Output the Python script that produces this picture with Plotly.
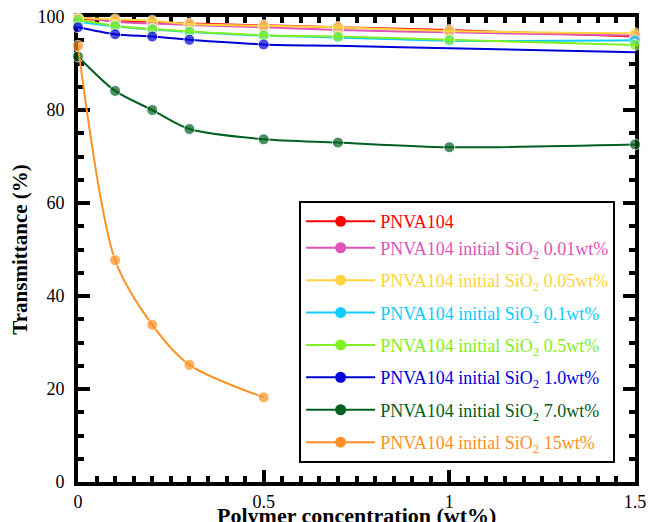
import plotly.graph_objects as go

x_full = [0, 0.1, 0.2, 0.3, 0.5, 0.7, 1.0, 1.5]
x_short = [0, 0.1, 0.2, 0.3, 0.5]

y_pnva = [99.6, 99.2, 98.9, 98.6, 98.2, 97.8, 97.2, 95.8]
y_001 = [100.1, 99.0, 98.6, 98.3, 97.8, 97.2, 96.7, 96.0]
y_005 = [99.8, 99.5, 99.2, 98.5, 98.1, 97.8, 97.0, 96.5]
y_01 = [99.0, 98.0, 97.3, 96.8, 96.0, 95.6, 94.9, 95.0]
y_05 = [99.4, 98.1, 97.4, 96.9, 96.1, 95.8, 95.1, 94.0]
y_10 = [97.8, 96.3, 95.8, 95.1, 94.1, 93.8, 93.3, 92.4]
y_70 = [91.5, 84.1, 80.0, 75.9, 73.7, 73.0, 72.0, 72.6]
y_15 = [93.8, 47.7, 33.8, 25.2, 18.2]

SUB = "SiO<sub>2</sub>"
series = [
    ("PNVA104", x_full, y_pnva, "#FF0000", None, "g0"),
    ("PNVA104 initial " + SUB + " 0.01wt%", x_full, y_001, "#E054B8", None, "g0"),
    ("PNVA104 initial " + SUB + " 0.05wt%", x_full, y_005, "#FFD440", None, "g2"),
    ("PNVA104 initial " + SUB + " 0.1wt%", x_full, y_01, "#10CCFF", None, "g3"),
    ("PNVA104 initial " + SUB + " 0.5wt%", x_full, y_05, "#80F020", None, "g4"),
    ("PNVA104 initial " + SUB + " 1.0wt%", x_full, y_10, "#0000D8", 5, "g5"),
    ("PNVA104 initial " + SUB + " 7.0wt%", x_full, y_70, "#006020", None, "g6"),
    ("PNVA104 initial " + SUB + " 15wt%", x_short, y_15, "#FF9124", None, "g7"),
]

MS = 11
fig = go.Figure()
for name, xs, ys, col, nmark, grp in series:
    sizes = [MS] * len(xs)
    if nmark is not None:
        sizes = [MS if i < nmark else 0 for i in range(len(xs))]
    fig.add_trace(go.Scatter(
        x=xs, y=ys, mode="lines+markers", showlegend=False,
        line=dict(color=col, width=2, shape="spline", smoothing=0.8),
        marker=dict(color=col, size=sizes),
        cliponaxis=False, hoverinfo="x+y",
    ))
for name, xs, ys, col, nmark, grp in series:
    fig.add_trace(go.Scatter(
        x=[None], y=[None], mode="lines+markers",
        name='<span style="color:%s">%s</span>' % (col, name),
        legendgroup=grp,
        line=dict(color=col, width=2),
        marker=dict(color=col, size=MS),
    ))

axis_common = dict(
    showline=True, linecolor="black", linewidth=4, mirror="ticks",
    ticks="inside", ticklen=12, tickwidth=4, tickcolor="black",
    showgrid=False, zeroline=False, layer="below traces", automargin=False,
    ticklabeloverflow="allow",
    tickfont=dict(family="Liberation Sans Narrow", size=18, color="black"),
)

fig.update_xaxes(
    range=[0, 1.5], tickvals=[0, 0.5, 1, 1.5], ticktext=["0", "0.5", "1", "1.5"],
    minor=dict(dtick=0.05, ticks="inside", ticklen=6, tickwidth=4, tickcolor="black"),
    **axis_common,
)
fig.update_yaxes(
    range=[0, 100], tickvals=[0, 20, 40, 60, 80, 100],
    minor=dict(dtick=5, ticks="inside", ticklen=6, tickwidth=4, tickcolor="black"),
    ticklabelstandoff=6,
    title=dict(text="<b>Transmittance (%)</b>", standoff=12,
               font=dict(family="Liberation Serif", size=21, color="black")),
    **axis_common,
)

fig.add_annotation(
    text="<b>Polymer concentration (wt%)</b>",
    xref="paper", yref="paper", x=0.5, y=-0.04,
    xanchor="center", yanchor="top", showarrow=False,
    font=dict(family="Liberation Serif", size=22, color="black"),
)

fig.update_layout(
    width=655, height=522,
    margin=dict(l=70, r=28, t=9, b=48),
    paper_bgcolor="white", plot_bgcolor="white",
    showlegend=True,
    legend=dict(
        x=0.397, y=0.604, xanchor="left", yanchor="top",
        bordercolor="black", borderwidth=2, bgcolor="white",
        font=dict(family="Liberation Serif", size=18, color="black"),
        itemwidth=69, tracegroupgap=6,
        groupclick="toggleitem",
    ),
)

fig.write_html("out.html")
